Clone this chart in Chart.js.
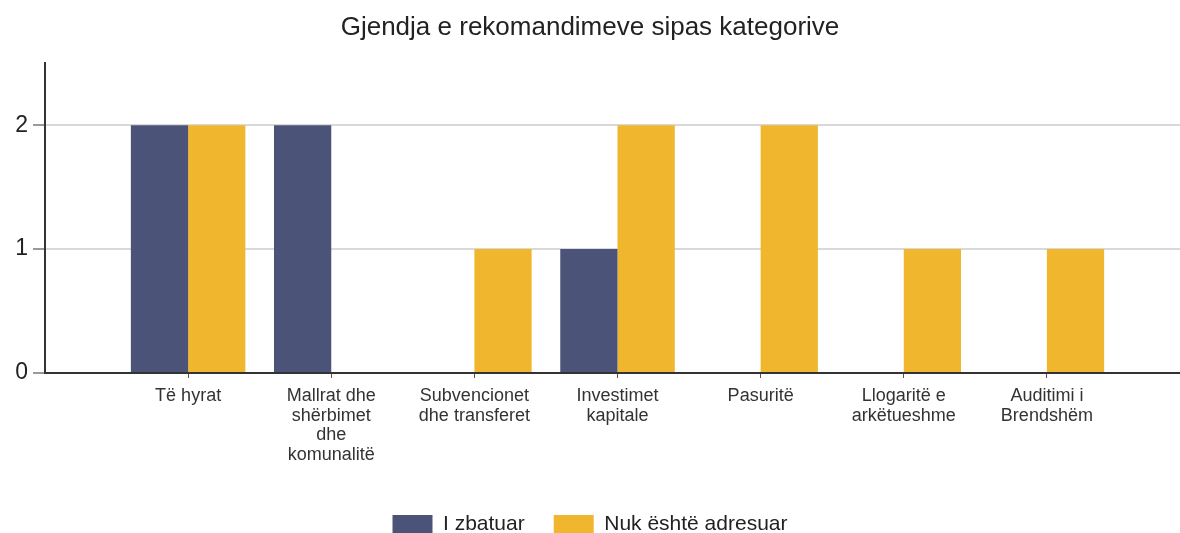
<!DOCTYPE html>
<html>
<head>
<meta charset="utf-8">
<script src="https://cdn.jsdelivr.net/npm/chart.js@4/dist/chart.umd.min.js"></script>
<style>
  html, body { margin: 0; padding: 0; background: #fff; }
  #wrap { width: 1180px; height: 533px; }
</style>
</head>
<body>
<div id="wrap"><canvas id="chart"></canvas></div>
<script>
// categories (multi-line labels as in the original)
const categories = [
    'Të hyrat',
    ['Mallrat dhe', 'shërbimet', 'dhe', 'komunalitë'],
    ['Subvencionet', 'dhe transferet'],
    ['Investimet', 'kapitale'],
    'Pasuritë',
    ['Llogaritë e', 'arkëtueshme'],
    ['Auditimi i', 'Brendshëm']
];
const zbatuar = [2, 2, 0, 1, 0, 0, 0];
const paAdresuar = [2, 0, 1, 2, 2, 1, 1];
const yTicks = [0, 1, 2];

const navy = '#4c5379';
const yellow = '#f0b62e';

function toPoints(values) {
    return values.map((v, i) => ({ x: i, y: v }));
}

Chart.defaults.font.family = '"Liberation Sans", Arial, sans-serif';
Chart.defaults.color = '#333';

var ctx = document.getElementById('chart').getContext('2d');
var chart = new Chart(ctx, {
    type: 'bar',
    data: {
        datasets: [{
            label: 'I zbatuar',
            data: toPoints(zbatuar),
            backgroundColor: navy,
            borderWidth: 0
        }, {
            label: 'Nuk është adresuar',
            data: toPoints(paAdresuar),
            backgroundColor: yellow,
            borderWidth: 0
        }]
    },
    options: {
        responsive: true,
        maintainAspectRatio: false,
        animation: false,
        categoryPercentage: 0.8,
        barPercentage: 1.0,
        // legend sits partly below the bottom edge, like the original
        layout: { padding: { left: 0, right: 0, top: 0, bottom: -12 } },
        plugins: {
            title: {
                display: true,
                text: 'Gjendja e rekomandimeve sipas kategorive',
                color: '#222',
                font: { size: 26, weight: 'normal' },
                padding: { top: 12, bottom: 20 }
            },
            legend: {
                position: 'bottom',
                labels: {
                    boxWidth: 40,
                    boxHeight: 19,
                    color: '#222',
                    font: { size: 21 },
                    padding: 29
                }
            },
            tooltip: { enabled: false }
        },
        scales: {
            x: {
                type: 'linear',
                min: -1,
                max: 6.93,
                offset: false,
                afterBuildTicks: function (axis) {
                    axis.ticks = categories.map((c, i) => ({ value: i }));
                },
                afterFit: function (axis) {
                    axis.height = 112;
                },
                ticks: {
                    autoSkip: false,
                    maxRotation: 0,
                    color: '#333',
                    font: { size: 18, lineHeight: 1.1 },
                    padding: 8,
                    callback: function (value) {
                        return categories[value];
                    }
                },
                grid: {
                    offset: false,
                    drawOnChartArea: false,
                    drawTicks: true,
                    tickLength: 5,
                    color: '#555'
                },
                border: { display: true, color: '#333', width: 2 }
            },
            y: {
                min: 0,
                max: 2.5,
                afterBuildTicks: function (axis) {
                    axis.ticks = yTicks.map(v => ({ value: v }));
                },
                afterFit: function (axis) {
                    axis.width = 45;
                },
                ticks: {
                    color: '#222',
                    font: { size: 23 },
                    padding: 5
                },
                grid: {
                    color: '#d9d9d9',
                    lineWidth: 2,
                    tickLength: 12,
                    tickColor: '#999'
                },
                border: { display: true, color: '#333', width: 2 }
            }
        }
    }
});
</script>
</body>
</html>
